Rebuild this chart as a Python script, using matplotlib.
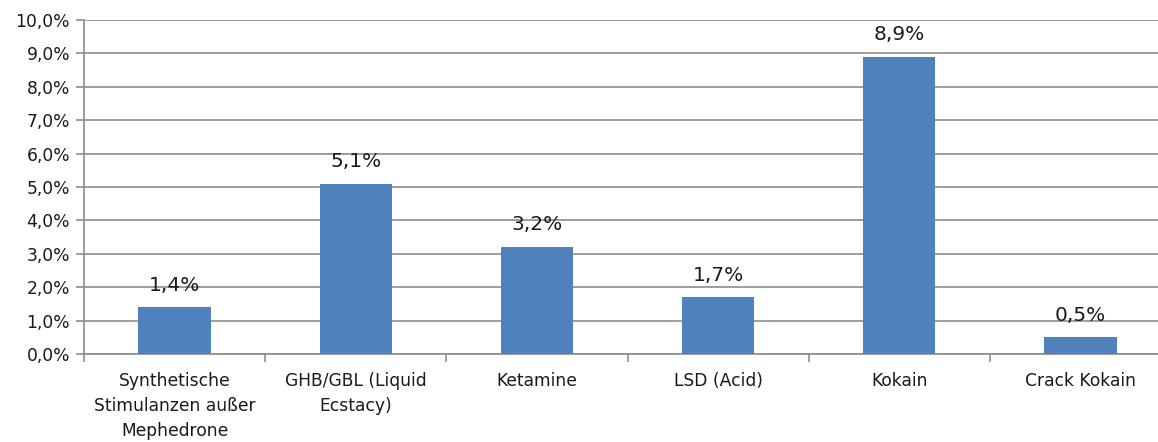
import matplotlib
matplotlib.use("Agg")
import matplotlib.pyplot as plt
from matplotlib.ticker import FuncFormatter, MultipleLocator

categories = ["Synthetische\nStimulanzen außer\nMephedrone", "GHB/GBL (Liquid\nEcstacy)",
              "Ketamine", "LSD (Acid)", "Kokain", "Crack Kokain"]
values = [1.4, 5.1, 3.2, 1.7, 8.9, 0.5]

plt.rcParams['font.family'] = ['DejaVu Sans']

fig = plt.figure(figsize=(11.58, 4.42), dpi=100)
W, H = 1158, 442
left, right, top, bottom = 84, 1171, 20, 354
ax = fig.add_axes([left / W, (H - bottom) / H, (right - left) / W, (bottom - top) / H])

x = list(range(len(categories)))
bars = ax.bar(x, values, width=0.40, color="#4F81BD", zorder=3)
for xi, v in zip(x, values):
    ax.text(xi, v + 0.5, f"{v:.1f}%".replace(".", ","), ha="center", va="baseline",
            fontsize=14.5, color="#1a1a1a")

ax.set_xlim(-0.5, len(categories) - 0.5)
ax.set_ylim(0, 10)
ax.yaxis.set_major_locator(MultipleLocator(1))
ax.yaxis.set_major_formatter(FuncFormatter(lambda v, p: f"{v:.1f}%".replace(".", ",")))
ax.grid(axis="y", color="#8c8c8c", linewidth=1.2, zorder=0)
ax.set_axisbelow(True)

ax.set_xticks([i - 0.5 for i in range(len(categories) + 1)])
ax.set_xticklabels([])
ax.set_xticks(x, minor=True)
ax.set_xticklabels(categories, minor=True, fontsize=12.3, linespacing=1.5, color="#1a1a1a")
ax.tick_params(axis="x", which="minor", length=0, pad=13)
ax.tick_params(axis="x", which="major", length=6, width=1.2, color="#8c8c8c", direction="out")
ax.tick_params(axis="y", length=6, width=1.2, color="#8c8c8c", labelsize=12.3,
               labelcolor="#1a1a1a", pad=4)

for s in ["top", "right"]:
    ax.spines[s].set_visible(False)
for s in ["left", "bottom"]:
    ax.spines[s].set_color("#8c8c8c")
    ax.spines[s].set_linewidth(1.2)

fig.savefig("out.png", dpi=100)
